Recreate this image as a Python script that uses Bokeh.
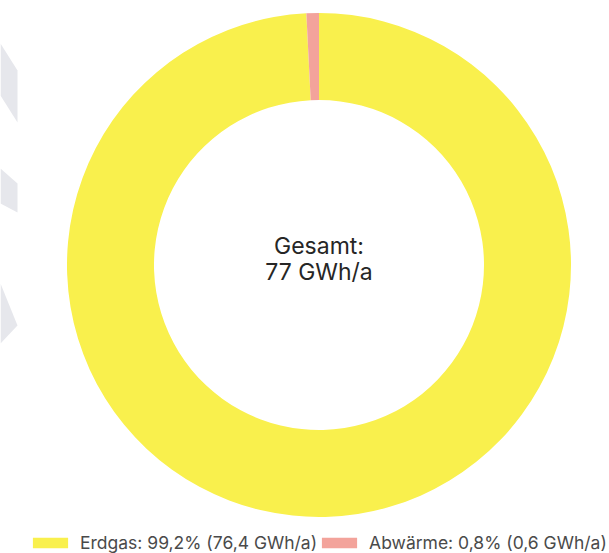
import math
from bokeh.plotting import figure
from bokeh.models import ColumnDataSource, Range1d, Legend, LegendItem
from bokeh.core.properties import value
from bokeh.embed import file_html
from bokeh.resources import INLINE

# ---- data ----
categories = ["Erdgas", "Abwärme"]
shares = [99.2, 0.8]            # percent
energy = [76.4, 0.6]            # GWh/a
total_label = ["Gesamt:", "77 GWh/a"]
colors = ["#F9F04D", "#F3A39B"]

labels = [f"{c}: {str(s).replace('.', ',')}% ({str(e).replace('.', ',')} GWh/a)"
          for c, s, e in zip(categories, shares, energy)]

# angles: start at 12 o'clock, run clockwise
starts, ends = [], []
acc = 0.0
for s in shares:
    starts.append(math.pi / 2 - 2 * math.pi * acc / 100)
    acc += s
    ends.append(math.pi / 2 - 2 * math.pi * acc / 100)

src = ColumnDataSource(dict(start=starts, end=ends, color=colors, label=labels))

W, H = 609, 553
p = figure(width=W, height=H, output_backend="svg", toolbar_location=None,
           x_range=Range1d(0, W), y_range=Range1d(0, H),
           x_axis_type=None, y_axis_type=None, min_border=0,
           background_fill_color="white", border_fill_color="white")
p.outline_line_color = None
p.grid.visible = False

# decorative background shapes (light grey chevrons on the left edge)
deco_xs = [[0, 17, 17, 0], [0, 17, 17, 0], [0, 17, 0]]
deco_ys = [[H - 43, H - 70, H - 122, H - 95],
           [H - 168, H - 183, H - 212, H - 203],
           [H - 283, H - 325, H - 343]]
p.patches(deco_xs, deco_ys, fill_color="#E6E7EC", line_color=None)

cx, cy = 318.5, H - 264.5
r = p.annular_wedge(x=cx, y=cy, inner_radius=165, outer_radius=252,
                    start_angle="start", end_angle="end", direction="clock",
                    fill_color="color", line_color=None, source=src)

p.text(x=[cx, cx], y=[H - 245, H - 271], text=total_label,
       text_align="center", text_baseline="alphabetic",
       text_font=value("Inter"), text_font_size="23px", text_color="#262626")

legend = Legend(items=[LegendItem(label=labels[i], renderers=[r], index=i)
                       for i in range(len(labels))],
                orientation="horizontal", location=(28, 0),
                glyph_width=44, glyph_height=13, label_height=13,
                label_standoff=8, spacing=-12, padding=0, margin=0,
                label_text_font="Inter", label_text_font_size="17.5px",
                label_text_color="#4a4a4a",
                border_line_alpha=0, background_fill_alpha=0)
p.add_layout(legend, "center")

open("out.html", "w").write(file_html(p, INLINE))
